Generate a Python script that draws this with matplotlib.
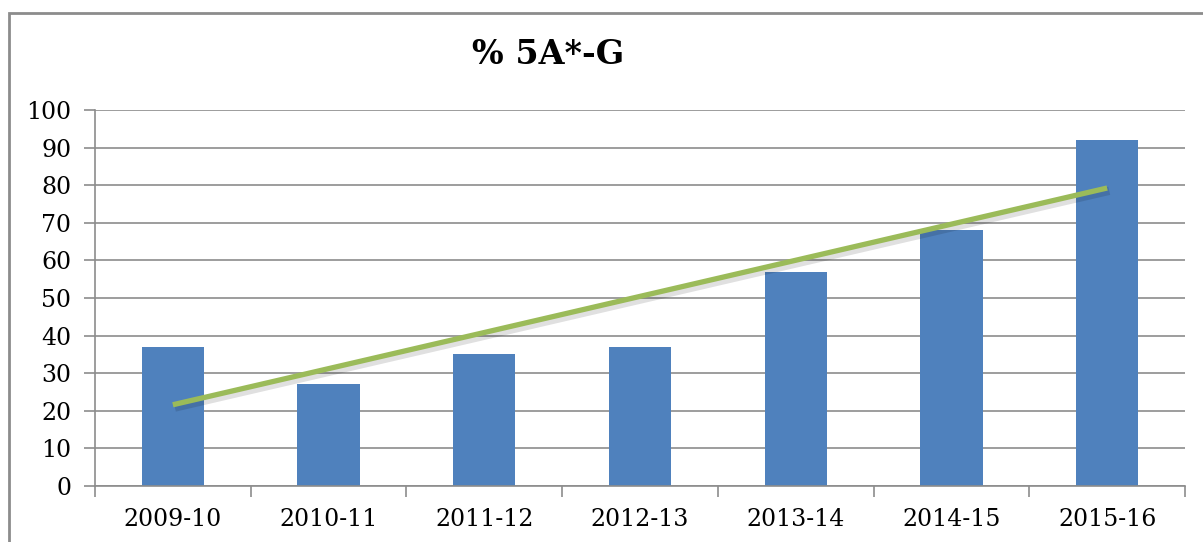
import matplotlib
matplotlib.use("Agg")
import matplotlib.pyplot as plt
import matplotlib.patheffects as pe
from matplotlib.patches import Rectangle
import numpy as np

categories = ["2009-10", "2010-11", "2011-12", "2012-13", "2013-14", "2014-15", "2015-16"]
values = [37, 27, 35, 37, 57, 68, 92]
yticks = [0, 10, 20, 30, 40, 50, 60, 70, 80, 90, 100]
title = "% 5A*-G"

W, H = 1203, 542
fig = plt.figure(figsize=(W / 100, H / 100), dpi=100)
plt.rcParams['font.family'] = ['DejaVu Serif']

# outer frame
fig.patches.append(Rectangle((9 / W, -0.1), 1.2, (H - 13) / H + 0.1, transform=fig.transFigure,
                             fill=False, edgecolor="#8c8c8c", linewidth=2))

ax = fig.add_axes([95 / W, (H - 486) / H, (1185 - 95) / W, (486 - 110) / H])
x = np.arange(len(categories))
ax.bar(x, values, width=0.4, color="#4F81BD", zorder=2)

coef = np.polyfit(x, values, 1)
trend = np.polyval(coef, x)
ax.plot(x, trend, color="#9BBB59", linewidth=3.8, solid_capstyle="butt", zorder=3,
        path_effects=[pe.SimpleLineShadow(offset=(1.5, -2), alpha=0.12, shadow_color="black", linewidth=6),
                      pe.Normal()])

ax.set_xlim(-0.5, len(categories) - 0.5)
ax.set_ylim(0, 100)
ax.set_yticks(yticks)
ax.set_yticklabels([str(t) for t in yticks], fontsize=17)
ax.yaxis.grid(True, color="#8c8c8c", linewidth=1.2, zorder=0)
ax.set_axisbelow(True)

ax.set_xticks(x)
ax.set_xticklabels(categories, fontsize=17)
ax.set_xticks(np.arange(-0.5, len(categories)), minor=True)
ax.tick_params(axis="x", which="major", length=0, pad=16)
ax.tick_params(axis="x", which="minor", length=8, color="#8c8c8c", width=1.2)
ax.tick_params(axis="y", length=8, color="#8c8c8c", width=1.2, pad=9)

for s in ["top", "right"]:
    ax.spines[s].set_visible(False)
for s in ["left", "bottom"]:
    ax.spines[s].set_color("#8c8c8c")
    ax.spines[s].set_linewidth(1.2)

fig.text(548 / W, 1 - 55 / H, title, ha="center", va="center", fontsize=24, fontweight="bold")

fig.savefig("out.png", dpi=100)
